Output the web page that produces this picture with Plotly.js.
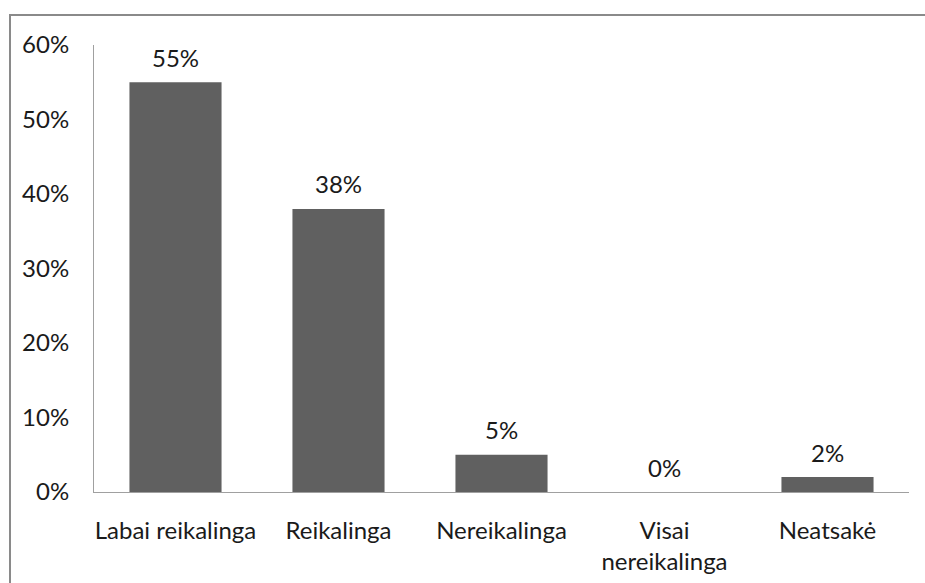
<!DOCTYPE html>
<html><head><meta charset="utf-8">
<script src="https://cdn.plot.ly/plotly-3.0.1.min.js"></script>
<style>
html,body{margin:0;padding:0;overflow:hidden;background:#fff;}
#frame{position:absolute;left:9px;top:14px;width:1000px;height:1000px;border:2px solid #8a8a8a;box-sizing:border-box;}
#chart{position:absolute;left:0;top:0;width:925px;height:583px;}
</style></head>
<body>
<div id="chart"></div>
<div id="frame"></div>
<script>
const categories = ["Labai reikalinga", "Reikalinga", "Nereikalinga", "Visai<br>nereikalinga", "Neatsakė"];
const values = [55, 38, 5, 0, 2];
const labels = ["55%", "38%", "5%", "0%", "2%"];
const yTickVals = [0, 10, 20, 30, 40, 50, 60];
const yTickText = ["0%", "10%", "20%", "30%", "40%", "50%", "60%"];

const font = {family: "Lato, 'Open Sans', sans-serif", size: 24, color: "#1a1a1a"};

const annotations = categories.map((c, i) => ({
  x: c, y: values[i], xref: "x", yref: "y",
  text: labels[i], showarrow: false,
  yanchor: "middle", yshift: 25,
  font: font
}));

Plotly.newPlot("chart", [{
  type: "bar",
  x: categories,
  y: values,
  marker: {color: "#606060"},
  hoverinfo: "none"
}], {
  width: 925, height: 583,
  margin: {l: 94, r: 16, t: 45, b: 91},
  paper_bgcolor: "rgba(0,0,0,0)",
  plot_bgcolor: "#fff",
  bargap: 0.435,
  showlegend: false,
  font: font,
  annotations: annotations,
  xaxis: {
    showline: true, linecolor: "#a0a0a0", linewidth: 1,
    ticks: "", showgrid: false, zeroline: false,
    tickfont: font, ticklabelstandoff: 17
  },
  yaxis: {
    range: [0, 60], showline: true, linecolor: "#a0a0a0", linewidth: 1,
    showgrid: false, zeroline: false, ticks: "",
    tickvals: yTickVals, ticktext: yTickText,
    tickfont: font, ticklabelstandoff: 19
  }
}, {staticPlot: true});
</script>
</body></html>
